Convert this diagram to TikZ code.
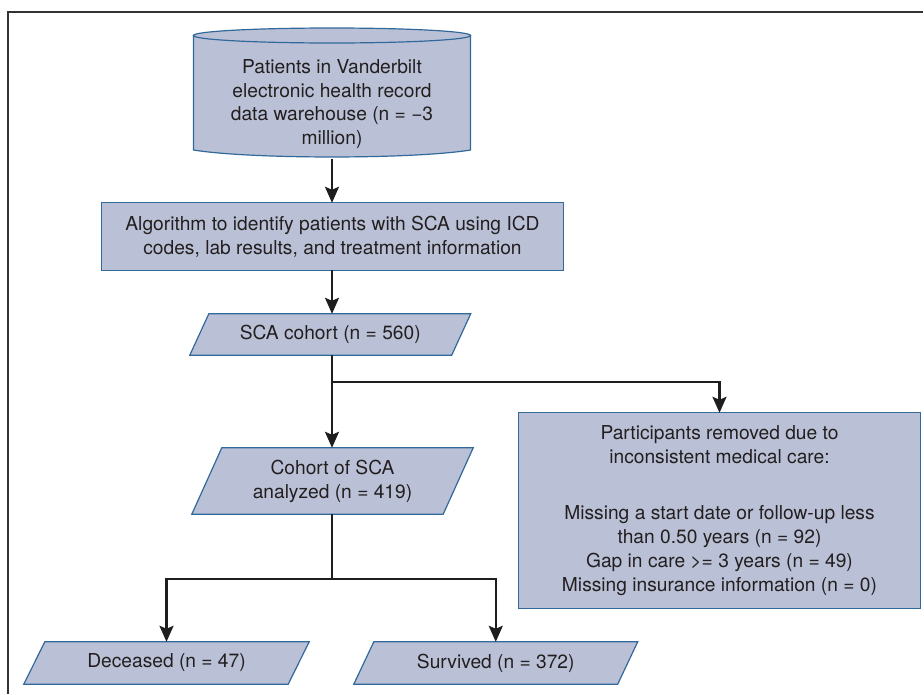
\documentclass[tikz,border=0pt]{standalone}
\usepackage{fontspec}
\setmainfont{TeX Gyre Heros}
\usetikzlibrary{arrows.meta,calc,backgrounds}
\definecolor{boxfill}{RGB}{186,193,214}
\definecolor{boxline}{RGB}{50,105,155}
\definecolor{txt}{RGB}{35,31,32}
\definecolor{conncol}{RGB}{30,30,30}
\newcommand\paral[2]{\path[shp] ($(#1.north west)+(#2,0)$) -- ($(#1.north east)+(#2,0)$) -- ($(#1.south east)-(#2,0)$) -- ($(#1.south west)-(#2,0)$) -- cycle;}
\begin{document}
\begin{tikzpicture}[x=1pt,y=-1pt,
  box/.style={draw=none, text=txt, align=center, font=\fontsize{19.2}{23.9}\selectfont, inner sep=0pt},
  conn/.style={draw=conncol, line width=2.2pt, line join=miter, -{Stealth[length=16pt,width=14pt,inset=3pt]}},
  plain/.style={draw=conncol, line width=2.2pt},
  shp/.style={fill=boxfill, draw=boxline, line width=1.2pt}]
\useasboundingbox (0,0) rectangle (924,694);
\draw[line width=2pt, draw=black!80] (8,694) -- (8,12) -- (923,12);

\node[box, minimum width=277pt, minimum height=109pt] (wh) at (332,104)
  {Patients in Vanderbilt\\electronic health record\\data warehouse (n = −3\\million)};
\node[box, minimum width=461pt, minimum height=67pt] (alg) at (332.5,236.5)
  {Algorithm to identify patients with SCA using ICD\\codes, lab results, and treatment information};
\node[box, minimum width=261.5pt, minimum height=41pt] (sca) at (330.25,334.5)
  {SCA cohort (n = 560)};
\node[box, minimum width=251pt, minimum height=66pt] (coh) at (332.5,481)
  {Cohort of SCA\\analyzed (n = 419)};
\node[box, minimum width=401pt, minimum height=195pt] (rem) at (719.5,510.5)
  {Participants removed due to\\inconsistent medical care:\\[32pt]Missing a start date or follow-up less\\than 0.50 years (n = 92)\\Gap in care >= 3 years (n = 49)\\Missing insurance information (n = 0)};
\node[box, minimum width=264pt, minimum height=42pt] (dec) at (166.5,663)
  {Deceased (n = 47)};
\node[box, minimum width=263.5pt, minimum height=42pt] (sur) at (495.75,663)
  {Survived (n = 372)};

\begin{pgfonlayer}{background}
  \path[shp] (193.5,35.5) -- (193.5,150) .. controls (250,159.3) and (414,159.3) .. (470.5,150) -- (470.5,35.5) -- cycle;
  \path[shp] (332,35.5) ellipse [x radius=138.5, y radius=7.5];
  \path[shp] (alg.north west) rectangle (alg.south east);
  \paral{sca}{9.5}
  \paral{coh}{15}
  \path[shp] (rem.north west) rectangle (rem.south east);
  \paral{dec}{10.5}
  \paral{sur}{10}
\end{pgfonlayer}

\coordinate (b1) at (332,382);
\coordinate (b2) at (332,579);
\draw[conn] (wh.south) -- (wh.south |- alg.north);
\draw[conn] (alg.south -| wh.south) -- (wh.south |- sca.north);
\draw[plain] (sca.south -| b1) -- (b1);
\draw[conn] (b1) -- (coh.north -| b1);
\draw[conn] (b1) -| (rem.north);
\draw[plain] (coh.south -| b2) -- (b2);
\draw[conn] (b2) -| (dec.north);
\draw[conn] (b2) -| (sur.north);
\end{tikzpicture}
\end{document}
